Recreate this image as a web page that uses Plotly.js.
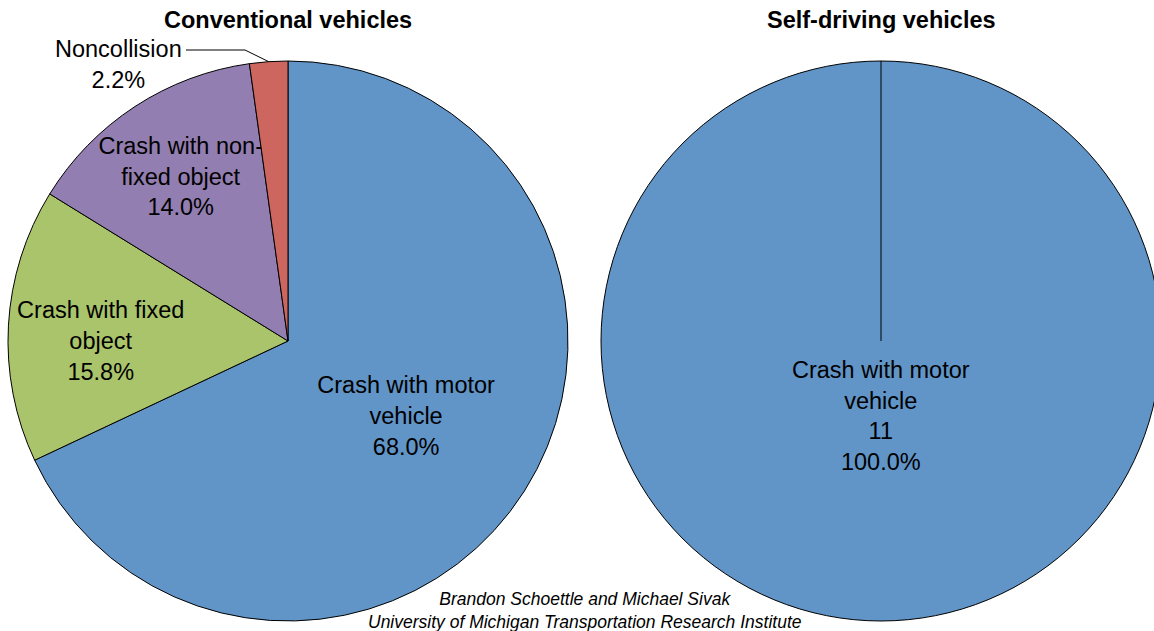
<!DOCTYPE html>
<html>
<head>
<meta charset="utf-8">
<script src="https://cdn.plot.ly/plotly-3.0.1.min.js"></script>
<style>
  html, body { margin: 0; padding: 0; overflow: hidden; background: #fff; }
  #chart { width: 1170px; height: 631px; }
</style>
</head>
<body>
<div id="chart"></div>
<script>
// 資料
const conventionalLabels = ['Crash with motor<br>vehicle', 'Crash with fixed<br>object', 'Crash with non-<br>fixed object', 'Noncollision'];
const conventionalShares = [68.0, 15.8, 14.0, 2.2];
const selfDrivingLabels = ['Crash with motor<br>vehicle'];
const selfDrivingCounts = [11];
const sliceColors = ['#6195c8', '#aac46c', '#937eb1', '#cd665f'];
const chartTitles = ['Conventional vehicles', 'Self-driving vehicles'];
const sourceLines = ['Brandon Schoettle and Michael Sivak', 'University of Michigan Transportation Research Institute'];

// 版面幾何（像素）
const W = 1170, H = 631;
const R = 280;
const leftPie = { cx: 288, cy: 341 };
const rightPie = { cx: 881, cy: 341 };
const FONT = '"Liberation Sans", Arial, sans-serif';
const LABEL_SIZE = 23.5;

const px = x => x / W;
const py = y => 1 - y / H;

function pieDomain(p) {
  return {
    x: [px(p.cx - R), px(p.cx + R)],
    y: [py(p.cy + R), py(p.cy - R)]
  };
}

/**
 * 扇形中點在圓周上的位置（從 12 點鐘方向順時針）
 */
function sliceMidPoint(values, idx, p) {
  const total = values.reduce((a, b) => a + b, 0);
  const before = values.slice(0, idx).reduce((a, b) => a + b, 0);
  const theta = 2 * Math.PI * (before + values[idx] / 2) / total;
  return { x: p.cx + R * Math.sin(theta), y: p.cy - R * Math.cos(theta) };
}

const lastIdx = conventionalShares.length - 1;

const conventionalTrace = {
  type: 'pie',
  labels: conventionalLabels,
  values: conventionalShares,
  sort: false,
  direction: 'clockwise',
  rotation: 0,
  domain: pieDomain(leftPie),
  marker: { colors: sliceColors, line: { color: '#000', width: 1 } },
  texttemplate: '%{label}<br>%{percent:.1%}',
  textposition: conventionalShares.map((_, i) => i === lastIdx ? 'none' : 'inside'),
  insidetextorientation: 'horizontal',
  textfont: { family: FONT, size: LABEL_SIZE, color: '#000' },
  hoverinfo: 'label+percent',
  showlegend: false
};

// 100% 的單一扇形：文字另外以註解放在扇形中線（下方）上
const selfDrivingTrace = {
  type: 'pie',
  labels: selfDrivingLabels,
  values: selfDrivingCounts,
  sort: false,
  direction: 'clockwise',
  rotation: 0,
  domain: pieDomain(rightPie),
  marker: { colors: [sliceColors[0]], line: { color: '#000', width: 1 } },
  textinfo: 'none',
  hoverinfo: 'label+value+percent',
  showlegend: false
};

const sdTotal = selfDrivingCounts.reduce((a, b) => a + b, 0);
const sdText = selfDrivingLabels[0] + '<br>' + selfDrivingCounts[0] + '<br>' +
  (100 * selfDrivingCounts[0] / sdTotal).toFixed(1) + '%';

// Noncollision 外部標籤與引導線
const nc = sliceMidPoint(conventionalShares, lastIdx, leftPie);
const ncText = conventionalLabels[lastIdx] + '<br>' + conventionalShares[lastIdx].toFixed(1) + '%';

const annotations = [
  {
    text: '<b>' + chartTitles[0] + '</b>', x: px(leftPie.cx), y: py(20),
    xref: 'paper', yref: 'paper', xanchor: 'center', yanchor: 'middle', showarrow: false,
    font: { family: FONT, size: LABEL_SIZE, color: '#000' }
  },
  {
    text: '<b>' + chartTitles[1] + '</b>', x: px(rightPie.cx), y: py(20),
    xref: 'paper', yref: 'paper', xanchor: 'center', yanchor: 'middle', showarrow: false,
    font: { family: FONT, size: LABEL_SIZE, color: '#000' }
  },
  {
    text: ncText, x: px(118), y: py(64),
    xref: 'paper', yref: 'paper', xanchor: 'center', yanchor: 'middle', showarrow: false,
    align: 'center', font: { family: FONT, size: LABEL_SIZE, color: '#000' }
  },
  {
    text: sdText, x: px(rightPie.cx), y: py(rightPie.cy + 75),
    xref: 'paper', yref: 'paper', xanchor: 'center', yanchor: 'middle', showarrow: false,
    align: 'center', font: { family: FONT, size: LABEL_SIZE, color: '#000' }
  },
  {
    text: '<i>' + sourceLines.join('<br>') + '</i>', x: px(585), y: py(610.5),
    xref: 'paper', yref: 'paper', xanchor: 'center', yanchor: 'middle', showarrow: false,
    align: 'center', font: { family: FONT, size: 17.5, color: '#000' }
  }
];

const shapes = [
  {
    type: 'path', xref: 'paper', yref: 'paper',
    path: `M ${px(186)} ${py(50)} L ${px(245)} ${py(50)} L ${px(nc.x)} ${py(nc.y)}`,
    line: { color: '#000', width: 1 }
  },
  {
    // 100% 扇形的起始邊
    type: 'line', xref: 'paper', yref: 'paper',
    x0: px(rightPie.cx), x1: px(rightPie.cx),
    y0: py(rightPie.cy), y1: py(rightPie.cy - R),
    line: { color: '#000', width: 1 }
  }
];

const layout = {
  width: W,
  height: H,
  margin: { l: 0, r: 0, t: 0, b: 0 },
  paper_bgcolor: '#fff',
  showlegend: false,
  // 不讓扇形內文字自動縮小
  uniformtext: { mode: 'show', minsize: LABEL_SIZE },
  annotations,
  shapes
};

Plotly.newPlot('chart', [conventionalTrace, selfDrivingTrace], layout, { displayModeBar: false, staticPlot: true });
</script>
</body>
</html>
